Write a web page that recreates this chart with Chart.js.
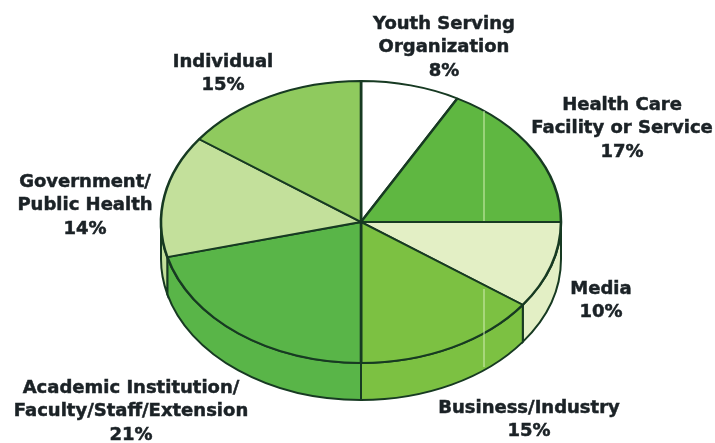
<!DOCTYPE html>
<html>
<head>
<meta charset="utf-8">
<style>
  html, body { margin: 0; padding: 0; background: #fff; }
  #wrap { position: relative; width: 715px; height: 443px; }
</style>
<script src="https://cdn.jsdelivr.net/npm/chart.js@4/dist/chart.umd.min.js"></script>
</head>
<body>
<div id="wrap"><canvas id="pie"></canvas></div>
<script>
const categories = ['Youth Serving Organization', 'Health Care Facility or Service', 'Media', 'Business/Industry', 'Academic Institution/Faculty/Staff/Extension', 'Government/Public Health', 'Individual'];
const shares = [8, 17, 10, 15, 21, 14, 15];
const labelLines = [
  ['Youth Serving', 'Organization', '8%'],
  ['Health Care', 'Facility or Service', '17%'],
  ['Media', '10%'],
  ['Business/Industry', '15%'],
  ['Academic Institution/', 'Faculty/Staff/Extension', '21%'],
  ['Government/', 'Public Health', '14%'],
  ['Individual', '15%']
];

const sliceColors = ['#ffffff', '#5fb741', '#e3efc5', '#7cc142', '#59b548', '#c3e09b', '#8fca5e'];
// 标签中心位置 [x, 首行 y]
const labelAnchors = [[444, 24], [622, 105], [601, 289], [529, 408], [131, 388], [85, 182], [223, 62]];
const LINE_H = 23.5;
const TILT = 0.705;
const DEPTH = 37;
const INK = '#173a22';

// 把饼图压扁成椭圆，并画出侧面厚度
const tiltedPie = {
  id: 'tiltedPie',
  beforeDatasetsDraw(chart) {
    const ctx = chart.ctx;
    chart.getDatasetMeta(0).data.forEach((arc, i) => {
      const p = arc.getProps(['x', 'y', 'startAngle', 'endAngle', 'outerRadius'], true);
      const a0 = Math.max(p.startAngle, 0);
      const a1 = Math.min(p.endAngle, Math.PI);
      if (a1 <= a0) return;
      ctx.save();
      ctx.beginPath();
      ctx.ellipse(p.x, p.y + DEPTH, p.outerRadius, p.outerRadius * TILT, 0, a0, a1);
      ctx.ellipse(p.x, p.y, p.outerRadius, p.outerRadius * TILT, 0, a1, a0, true);
      ctx.closePath();
      ctx.fillStyle = sliceColors[i];
      ctx.fill();
      ctx.strokeStyle = INK;
      ctx.lineWidth = 2;
      ctx.stroke();
      ctx.restore();
    });
  },
  beforeDatasetDraw(chart) {
    const ctx = chart.ctx;
    const { x, y } = chart.getDatasetMeta(0).data[0];
    ctx.save();
    ctx.translate(x, y);
    ctx.scale(1, TILT);
    ctx.translate(-x, -y);
  },
  afterDatasetDraw(chart) {
    chart.ctx.restore();
  },
  afterDraw(chart) {
    const ctx = chart.ctx;
    ctx.save();
    // 原图扫描留下的浅色竖线
    ctx.strokeStyle = 'rgba(205,235,175,0.7)';
    ctx.lineWidth = 1.5;
    ctx.beginPath();
    ctx.moveTo(484, 111);
    ctx.lineTo(484, 221);
    ctx.moveTo(484, 289);
    ctx.lineTo(484, 367);
    ctx.stroke();

    ctx.fillStyle = '#1b2226';
    ctx.strokeStyle = '#1b2226';
    ctx.lineWidth = 0.5;
    ctx.font = 'bold 18px "DejaVu Sans"';
    ctx.textAlign = 'center';
    ctx.textBaseline = 'middle';
    labelLines.forEach((lines, i) => {
      lines.forEach((line, j) => {
        const x = labelAnchors[i][0];
        const y = labelAnchors[i][1] + j * LINE_H;
        ctx.fillText(line, x, y);
        ctx.strokeText(line, x, y);
      });
    });
    ctx.restore();
  }
};

new Chart(document.getElementById('pie').getContext('2d'), {
  type: 'pie',
  data: {
    labels: categories,
    datasets: [{
      data: shares,
      backgroundColor: sliceColors,
      borderColor: INK,
      borderWidth: 2.6,
      radius: 200
    }]
  },
  options: {
    responsive: true,
    maintainAspectRatio: false,
    animation: false,
    layout: { padding: { left: 7, top: 1 } },
    plugins: {
      legend: { display: false },
      tooltip: { enabled: false }
    }
  },
  plugins: [tiltedPie]
});
</script>
</body>
</html>
